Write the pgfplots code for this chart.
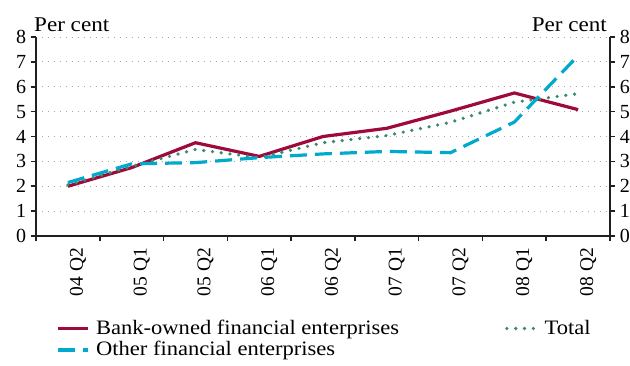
\documentclass[border=0pt]{standalone}
\usepackage{pgfplots}
\pgfplotsset{compat=1.18}
\usepackage{fontspec}
\setmainfont{Liberation Serif}
\newfontfamily\widefont{Liberation Serif}[FakeStretch=1.1]
\definecolor{bankred}{RGB}{158,10,58}
\definecolor{othercyan}{RGB}{0,170,204}
\definecolor{totgreen}{RGB}{60,138,108}
\definecolor{axgray}{RGB}{35,31,32}
\begin{document}
\fontsize{20pt}{24pt}\selectfont
\begin{tikzpicture}
\path[use as bounding box] (-36pt,-129pt) rectangle (594pt,236pt);
\pgfplotsset{every axis/.append style={
  at={(0,0)}, anchor=south west,
  scale only axis, width=574pt, height=199pt,
  xmin=-0.5, xmax=8.5, ymin=0, ymax=8,
  ytick={0,...,8},
  tick align=outside,
  /pgf/number format/assume math mode=true,
  tick label style={font=\fontsize{20pt}{24pt}\selectfont},
  axis line style={line width=1.6pt, axgray},
  major tick length=5pt, minor tick length=5pt,
  every tick/.style={line width=1.6pt, axgray},
}}
\begin{axis}[
  axis x line*=bottom, axis y line*=left,
  xtick={0,...,8},
  xticklabels={04 Q2,05 Q1,05 Q2,06 Q1,06 Q2,07 Q1,07 Q2,08 Q1,08 Q2},
  major x tick style={draw=none},
  minor xtick={-0.5,0.5,...,8.5},
  xticklabel style={rotate=90, anchor=east, font=\fontsize{19.5pt}{24pt}\selectfont},
  x tick label style={yshift=-10pt},
  yticklabel style={xshift=2pt},
  ymajorgrids,
  grid style={gray!70, line width=0.9pt, dash pattern=on 1.2pt off 4.8pt},
  clip=false,
  legend columns=2,
  legend cell align=left,
  legend style={draw=none, fill=none, at={(0.036,-0.41)}, anchor=north west,
    font=\fontsize{20.5pt}{23pt}\widefont, inner sep=0pt, row sep=0pt,
    /tikz/every even column/.append style={column sep=104pt},
    /tikz/every odd column/.append style={column sep=4pt}},
  legend image code/.code={\draw[#1] (0pt,0pt) -- (30pt,0pt);},
]
\addplot[bankred, line width=3.2pt] coordinates {
(0,2.0) (1,2.75) (2,3.75) (3,3.2) (4,4.0) (5,4.33) (6,5.02) (7,5.75) (8,5.08)};
\addlegendentry{Bank-owned financial enterprises}
\addplot[totgreen, line width=3.6pt, line cap=round, dash pattern=on 0pt off 8.8pt] coordinates {
(0,2.05) (1,2.8) (2,3.48) (3,3.15) (4,3.75) (5,4.04) (6,4.57) (7,5.38) (8,5.72)};
\addlegendentry{Total}
\addplot[othercyan, line width=3.2pt, dash pattern=on 17pt off 8pt] coordinates {
(0,2.15) (1,2.9) (2,2.95) (3,3.15) (4,3.3) (5,3.4) (6,3.35) (7,4.58) (8,7.25)};
\addlegendentry{Other financial enterprises}
\node[anchor=base west, inner sep=0pt, font=\fontsize{21pt}{24pt}\widefont] at ([xshift=-2pt,yshift=6pt]rel axis cs:0,1) {Per cent};
\node[anchor=base east, inner sep=0pt, font=\fontsize{21pt}{24pt}\widefont] at ([xshift=-3pt,yshift=6pt]rel axis cs:1,1) {Per cent};
\end{axis}
\begin{axis}[
  axis x line=none, axis y line*=right,
  yticklabel style={xshift=-2pt},
]
\addplot[draw=none] coordinates {(0,0)};
\end{axis}
\end{tikzpicture}
\end{document}
